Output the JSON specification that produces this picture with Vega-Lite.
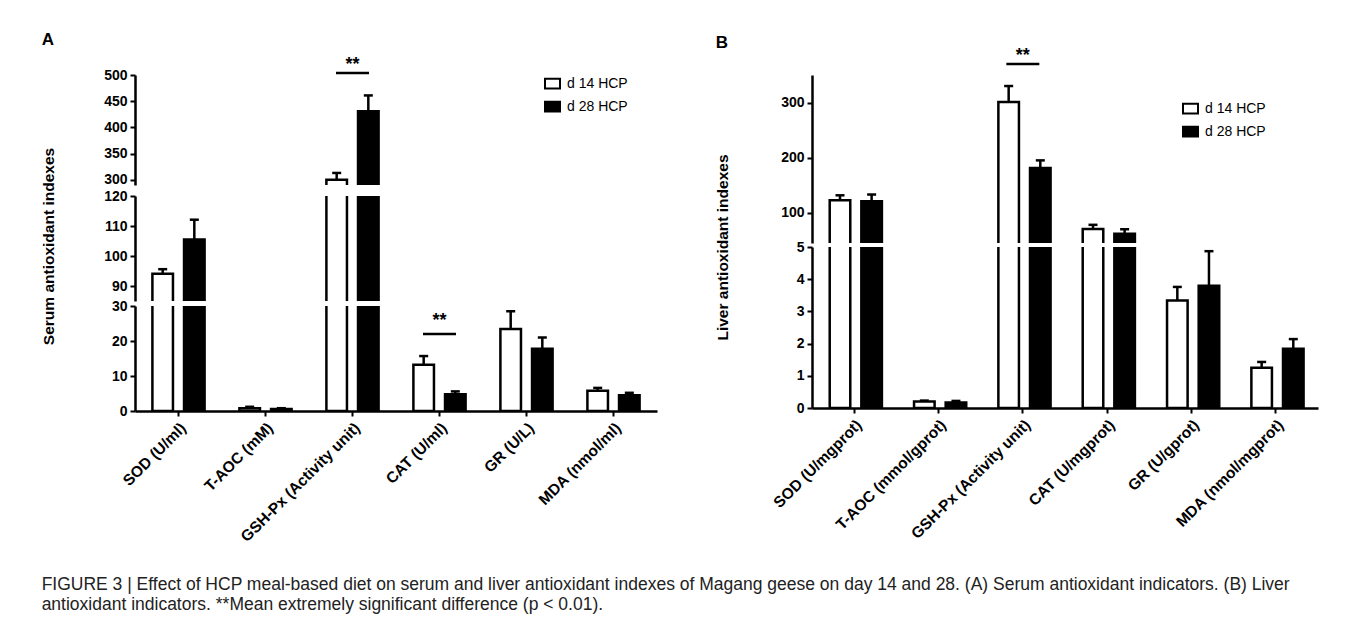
{
  "$schema": "https://vega.github.io/schema/vega-lite/v6.json",
  "padding": {"left": 41, "top": 30, "right": 5, "bottom": 5},
  "background": "white",
  "datasets": {
    "A": [
      {"cat": "SOD (U/ml)", "grp": "d 14 HCP", "mean": 94.1, "err": 95.6},
      {"cat": "SOD (U/ml)", "grp": "d 28 HCP", "mean": 105.5, "err": 112.1},
      {"cat": "T-AOC (mM)", "grp": "d 14 HCP", "mean": 0.8, "err": 1.2},
      {"cat": "T-AOC (mM)", "grp": "d 28 HCP", "mean": 0.6, "err": 0.8},
      {"cat": "GSH-Px (Activity unit)", "grp": "d 14 HCP", "mean": 300, "err": 313},
      {"cat": "GSH-Px (Activity unit)", "grp": "d 28 HCP", "mean": 431, "err": 461},
      {"cat": "CAT (U/ml)", "grp": "d 14 HCP", "mean": 13.2, "err": 15.7},
      {"cat": "CAT (U/ml)", "grp": "d 28 HCP", "mean": 4.8, "err": 5.6},
      {"cat": "GR (U/L)", "grp": "d 14 HCP", "mean": 23.4, "err": 28.5},
      {"cat": "GR (U/L)", "grp": "d 28 HCP", "mean": 17.8, "err": 21},
      {"cat": "MDA (nmol/ml)", "grp": "d 14 HCP", "mean": 5.8, "err": 6.6},
      {"cat": "MDA (nmol/ml)", "grp": "d 28 HCP", "mean": 4.5, "err": 5.2}
    ],
    "B": [
      {"cat": "SOD (U/mgprot)", "grp": "d 14 HCP", "mean": 122.5, "err": 131.6},
      {"cat": "SOD (U/mgprot)", "grp": "d 28 HCP", "mean": 121, "err": 133},
      {"cat": "T-AOC (mmol/gprot)", "grp": "d 14 HCP", "mean": 0.2, "err": 0.23},
      {"cat": "T-AOC (mmol/gprot)", "grp": "d 28 HCP", "mean": 0.17, "err": 0.22},
      {"cat": "GSH-Px (Activity unit)", "grp": "d 14 HCP", "mean": 301, "err": 330},
      {"cat": "GSH-Px (Activity unit)", "grp": "d 28 HCP", "mean": 181, "err": 195},
      {"cat": "CAT (U/mgprot)", "grp": "d 14 HCP", "mean": 70.4, "err": 78},
      {"cat": "CAT (U/mgprot)", "grp": "d 28 HCP", "mean": 62, "err": 70},
      {"cat": "GR (U/gprot)", "grp": "d 14 HCP", "mean": 3.34, "err": 3.76},
      {"cat": "GR (U/gprot)", "grp": "d 28 HCP", "mean": 3.8, "err": 4.87},
      {"cat": "MDA (nmol/mgprot)", "grp": "d 14 HCP", "mean": 1.25, "err": 1.43},
      {"cat": "MDA (nmol/mgprot)", "grp": "d 28 HCP", "mean": 1.84, "err": 2.14}
    ],
    "sigA1": [{"cat": "GSH-Px (Activity unit)", "ly": 504, "sy": 520, "lab": "**"}],
    "sigA3": [{"cat": "CAT (U/ml)", "ly": 22, "sy": 25.8, "lab": "**"}],
    "sigB1": [{"cat": "GSH-Px (Activity unit)", "ly": 370, "sy": 385, "lab": "**"}]
  },
  "hconcat": [
    {
      "title": {"text": "A", "anchor": "start", "fontSize": 17, "fontWeight": "bold", "font": "Liberation Sans", "color": "black", "offset": 7},
      "resolve": {"scale": {"fill": "independent"}},
      "bounds": "flush",
      "spacing": 11,
      "vconcat": [
        {
          "width": 522, "height": 110,
          "layer": [
            {
              "data": {"name": "A"},
              "mark": {"type": "bar", "clip": true, "stroke": "black", "strokeWidth": 2.5},
              "encoding": {
                "x": {"field": "cat", "type": "nominal", "scale": {"domain": ["SOD (U/ml)", "T-AOC (mM)", "GSH-Px (Activity unit)", "CAT (U/ml)", "GR (U/L)", "MDA (nmol/ml)"], "paddingInner": 0.4, "paddingOuter": 0.2}, "axis": null},
                "xOffset": {"field": "grp", "type": "nominal", "scale": {"paddingInner": 0.35, "paddingOuter": 0}},
                "y": {"field": "mean", "type": "quantitative", "scale": {"domain": [290, 500], "nice": false, "zero": false}, "axis": {"values": [300, 350, 400, 450, 500], "tickCount": 5, "title": null}},
                "y2": {"datum": 0},
                "fill": {"field": "grp", "type": "nominal", "scale": {"domain": ["d 14 HCP", "d 28 HCP"], "range": ["white", "black"]}, "legend": {"title": null, "orient": "none", "legendX": 409, "legendY": 0, "symbolType": "M-1,-0.65H1V0.65H-1Z", "symbolSize": 225, "symbolStrokeColor": "black", "symbolStrokeWidth": 2, "labelFontSize": 14, "labelFont": "Liberation Sans", "labelColor": "black", "rowPadding": 4, "labelOffset": 6}}
              }
            },
            {
              "data": {"name": "A"},
              "mark": {"type": "rule", "clip": true, "strokeWidth": 2.5, "color": "black"},
              "encoding": {
                "x": {"field": "cat", "type": "nominal"},
                "xOffset": {"field": "grp", "type": "nominal"},
                "y": {"field": "mean", "type": "quantitative"},
                "y2": {"field": "err"}
              }
            },
            {
              "data": {"name": "A"},
              "mark": {"type": "tick", "clip": true, "orient": "horizontal", "thickness": 2.5, "size": 9, "color": "black", "opacity": 1},
              "encoding": {
                "x": {"field": "cat", "type": "nominal"},
                "xOffset": {"field": "grp", "type": "nominal"},
                "y": {"field": "err", "type": "quantitative"}
              }
            },
            {
              "data": {"name": "sigA1"},
              "mark": {"type": "tick", "orient": "horizontal", "thickness": 2.5, "size": 33, "color": "black", "opacity": 1},
              "encoding": {"x": {"field": "cat", "type": "nominal"}, "y": {"field": "ly", "type": "quantitative"}}
            },
            {
              "data": {"name": "sigA1"},
              "mark": {"type": "text", "fontSize": 18, "fontWeight": "bold", "font": "Liberation Sans", "baseline": "middle", "color": "black"},
              "encoding": {"x": {"field": "cat", "type": "nominal"}, "y": {"field": "sy", "type": "quantitative"}, "text": {"field": "lab"}}
            }
          ]
        },
        {
          "resolve": {"scale": {"fill": "independent"}},
          "bounds": "flush",
          "spacing": 5,
          "vconcat": [
            {
              "width": 522, "height": 105,
              "layer": [
                {
                  "data": {"name": "A"},
                  "mark": {"type": "bar", "clip": true, "stroke": "black", "strokeWidth": 2.5},
                  "encoding": {
                    "x": {"field": "cat", "type": "nominal", "scale": {"domain": ["SOD (U/ml)", "T-AOC (mM)", "GSH-Px (Activity unit)", "CAT (U/ml)", "GR (U/L)", "MDA (nmol/ml)"], "paddingInner": 0.4, "paddingOuter": 0.2}, "axis": null},
                    "xOffset": {"field": "grp", "type": "nominal", "scale": {"paddingInner": 0.35, "paddingOuter": 0}},
                    "y": {"field": "mean", "type": "quantitative", "scale": {"domain": [85, 120], "nice": false, "zero": false}, "axis": {"values": [90, 100, 110, 120], "tickCount": 4, "title": "Serum antioxidant indexes", "titlePadding": 47, "titleY": 50}},
                    "y2": {"datum": 0},
                    "fill": {"field": "grp", "type": "nominal", "scale": {"domain": ["d 14 HCP", "d 28 HCP"], "range": ["white", "black"]}, "legend": null}
                  }
                },
                {
                  "data": {"name": "A"},
                  "mark": {"type": "rule", "clip": true, "strokeWidth": 2.5, "color": "black"},
                  "encoding": {
                    "x": {"field": "cat", "type": "nominal"},
                    "xOffset": {"field": "grp", "type": "nominal"},
                    "y": {"field": "mean", "type": "quantitative"},
                    "y2": {"field": "err"}
                  }
                },
                {
                  "data": {"name": "A"},
                  "mark": {"type": "tick", "clip": true, "orient": "horizontal", "thickness": 2.5, "size": 9, "color": "black", "opacity": 1},
                  "encoding": {
                    "x": {"field": "cat", "type": "nominal"},
                    "xOffset": {"field": "grp", "type": "nominal"},
                    "y": {"field": "err", "type": "quantitative"}
                  }
                }
              ]
            },
            {
              "width": 522, "height": 105,
              "layer": [
                {
                  "data": {"name": "A"},
                  "mark": {"type": "bar", "clip": true, "stroke": "black", "strokeWidth": 2.5},
                  "encoding": {
                    "x": {"field": "cat", "type": "nominal", "scale": {"domain": ["SOD (U/ml)", "T-AOC (mM)", "GSH-Px (Activity unit)", "CAT (U/ml)", "GR (U/L)", "MDA (nmol/ml)"], "paddingInner": 0.4, "paddingOuter": 0.2}, "axis": {"title": null, "labelAngle": -45, "labelFontSize": 15.5, "labelPadding": 4}},
                    "xOffset": {"field": "grp", "type": "nominal", "scale": {"paddingInner": 0.35, "paddingOuter": 0}},
                    "y": {"field": "mean", "type": "quantitative", "scale": {"domain": [0, 30], "nice": false}, "axis": {"values": [0, 10, 20, 30], "tickCount": 4, "title": null}},
                    "y2": {"datum": 0},
                    "fill": {"field": "grp", "type": "nominal", "scale": {"domain": ["d 14 HCP", "d 28 HCP"], "range": ["white", "black"]}, "legend": null}
                  }
                },
                {
                  "data": {"name": "A"},
                  "mark": {"type": "rule", "clip": true, "strokeWidth": 2.5, "color": "black"},
                  "encoding": {
                    "x": {"field": "cat", "type": "nominal"},
                    "xOffset": {"field": "grp", "type": "nominal"},
                    "y": {"field": "mean", "type": "quantitative"},
                    "y2": {"field": "err"}
                  }
                },
                {
                  "data": {"name": "A"},
                  "mark": {"type": "tick", "clip": true, "orient": "horizontal", "thickness": 2.5, "size": 9, "color": "black", "opacity": 1},
                  "encoding": {
                    "x": {"field": "cat", "type": "nominal"},
                    "xOffset": {"field": "grp", "type": "nominal"},
                    "y": {"field": "err", "type": "quantitative"}
                  }
                },
                {
                  "data": {"name": "sigA3"},
                  "mark": {"type": "tick", "orient": "horizontal", "thickness": 2.5, "size": 33, "color": "black", "opacity": 1},
                  "encoding": {"x": {"field": "cat", "type": "nominal"}, "y": {"field": "ly", "type": "quantitative"}}
                },
                {
                  "data": {"name": "sigA3"},
                  "mark": {"type": "text", "fontSize": 18, "fontWeight": "bold", "font": "Liberation Sans", "baseline": "middle", "color": "black"},
                  "encoding": {"x": {"field": "cat", "type": "nominal"}, "y": {"field": "sy", "type": "quantitative"}, "text": {"field": "lab"}}
                }
              ]
            }
          ]
        }
      ]
    },
    {
      "title": {"text": "B", "anchor": "start", "fontSize": 17, "fontWeight": "bold", "font": "Liberation Sans", "color": "black", "offset": -5},
      "resolve": {"scale": {"fill": "independent"}},
      "bounds": "flush",
      "spacing": 4,
      "vconcat": [
        {
          "width": 506, "height": 168,
          "layer": [
            {
              "data": {"name": "B"},
              "mark": {"type": "bar", "clip": true, "stroke": "black", "strokeWidth": 2.5},
              "encoding": {
                "x": {"field": "cat", "type": "nominal", "scale": {"domain": ["SOD (U/mgprot)", "T-AOC (mmol/gprot)", "GSH-Px (Activity unit)", "CAT (U/mgprot)", "GR (U/gprot)", "MDA (nmol/mgprot)"], "paddingInner": 0.42, "paddingOuter": 0.21}, "axis": null},
                "xOffset": {"field": "grp", "type": "nominal", "scale": {"paddingInner": 0.42, "paddingOuter": 0}},
                "y": {"field": "mean", "type": "quantitative", "scale": {"domain": [45, 350], "nice": false, "zero": false}, "axis": {"values": [100, 200, 300], "tickCount": 3, "title": "Liver antioxidant indexes", "titlePadding": 50, "titleY": 172}},
                "y2": {"datum": 0},
                "fill": {"field": "grp", "type": "nominal", "scale": {"domain": ["d 14 HCP", "d 28 HCP"], "range": ["white", "black"]}, "legend": {"title": null, "orient": "none", "legendX": 370, "legendY": 25, "symbolType": "M-1,-0.65H1V0.65H-1Z", "symbolSize": 225, "symbolStrokeColor": "black", "symbolStrokeWidth": 2, "labelFontSize": 14, "labelFont": "Liberation Sans", "labelColor": "black", "rowPadding": 4, "labelOffset": 6}}
              }
            },
            {
              "data": {"name": "B"},
              "mark": {"type": "rule", "clip": true, "strokeWidth": 2.5, "color": "black"},
              "encoding": {
                "x": {"field": "cat", "type": "nominal"},
                "xOffset": {"field": "grp", "type": "nominal"},
                "y": {"field": "mean", "type": "quantitative"},
                "y2": {"field": "err"}
              }
            },
            {
              "data": {"name": "B"},
              "mark": {"type": "tick", "clip": true, "orient": "horizontal", "thickness": 2.5, "size": 9, "color": "black", "opacity": 1},
              "encoding": {
                "x": {"field": "cat", "type": "nominal"},
                "xOffset": {"field": "grp", "type": "nominal"},
                "y": {"field": "err", "type": "quantitative"}
              }
            },
            {
              "data": {"name": "sigB1"},
              "mark": {"type": "tick", "orient": "horizontal", "thickness": 2.5, "size": 33, "color": "black", "opacity": 1},
              "encoding": {"x": {"field": "cat", "type": "nominal"}, "y": {"field": "ly", "type": "quantitative"}}
            },
            {
              "data": {"name": "sigB1"},
              "mark": {"type": "text", "fontSize": 18, "fontWeight": "bold", "font": "Liberation Sans", "baseline": "middle", "color": "black"},
              "encoding": {"x": {"field": "cat", "type": "nominal"}, "y": {"field": "sy", "type": "quantitative"}, "text": {"field": "lab"}}
            }
          ]
        },
        {
          "width": 506, "height": 161,
          "layer": [
            {
              "data": {"name": "B"},
              "mark": {"type": "bar", "clip": true, "stroke": "black", "strokeWidth": 2.5},
              "encoding": {
                "x": {"field": "cat", "type": "nominal", "scale": {"domain": ["SOD (U/mgprot)", "T-AOC (mmol/gprot)", "GSH-Px (Activity unit)", "CAT (U/mgprot)", "GR (U/gprot)", "MDA (nmol/mgprot)"], "paddingInner": 0.42, "paddingOuter": 0.21}, "axis": {"title": null, "labelAngle": -45, "labelFontSize": 15.5, "labelPadding": 4}},
                "xOffset": {"field": "grp", "type": "nominal", "scale": {"paddingInner": 0.42, "paddingOuter": 0}},
                "y": {"field": "mean", "type": "quantitative", "scale": {"domain": [0, 5], "nice": false}, "axis": {"values": [0, 1, 2, 3, 4, 5], "tickCount": 6, "title": null}},
                "y2": {"datum": 0},
                "fill": {"field": "grp", "type": "nominal", "scale": {"domain": ["d 14 HCP", "d 28 HCP"], "range": ["white", "black"]}, "legend": null}
              }
            },
            {
              "data": {"name": "B"},
              "mark": {"type": "rule", "clip": true, "strokeWidth": 2.5, "color": "black"},
              "encoding": {
                "x": {"field": "cat", "type": "nominal"},
                "xOffset": {"field": "grp", "type": "nominal"},
                "y": {"field": "mean", "type": "quantitative"},
                "y2": {"field": "err"}
              }
            },
            {
              "data": {"name": "B"},
              "mark": {"type": "tick", "clip": true, "orient": "horizontal", "thickness": 2.5, "size": 9, "color": "black", "opacity": 1},
              "encoding": {
                "x": {"field": "cat", "type": "nominal"},
                "xOffset": {"field": "grp", "type": "nominal"},
                "y": {"field": "err", "type": "quantitative"}
              }
            }
          ]
        }
      ]
    }
  ],
  "spacing": 58,
  "resolve": {"scale": {"fill": "independent"}},
  "title": {
    "text": ["FIGURE 3 | Effect of HCP meal-based diet on serum and liver antioxidant indexes of Magang geese on day 14 and 28. (A) Serum antioxidant indicators. (B) Liver", "antioxidant indicators. **Mean extremely significant difference (p < 0.01)."],
    "orient": "bottom", "anchor": "start", "fontSize": 17.5, "fontWeight": "normal", "font": "Liberation Sans", "color": "#222222", "lineHeight": 20, "offset": 31
  },
  "config": {
    "view": {"stroke": null},
    "font": "Liberation Sans",
    "axis": {
      "domainColor": "black", "domainWidth": 2.5, "tickColor": "black", "tickWidth": 2, "tickSize": 5, "labelOverlap": false,
      "labelFont": "Liberation Sans", "labelFontWeight": "bold", "labelColor": "black", "labelFontSize": 14, "labelPadding": 3,
      "grid": false, "titleFont": "Liberation Sans", "titleFontWeight": "bold", "titleFontSize": 15.5, "titleColor": "black"
    }
  }
}
